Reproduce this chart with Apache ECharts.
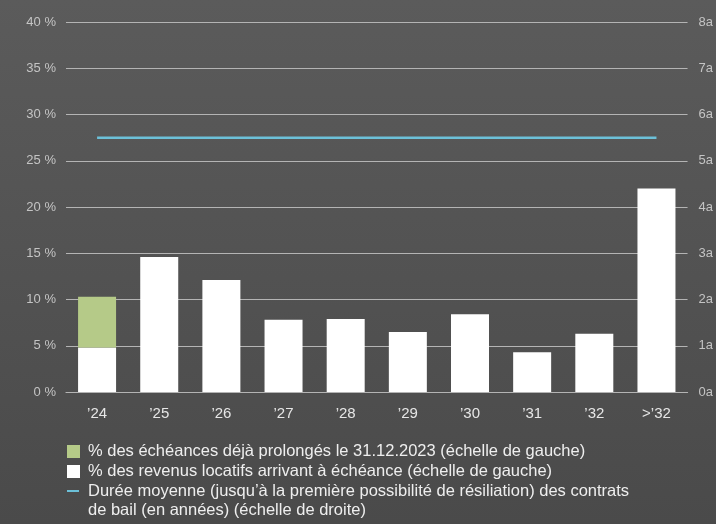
<!DOCTYPE html>
<html>
<head>
<meta charset="utf-8">
<script src="https://cdn.jsdelivr.net/npm/echarts@6/dist/echarts.min.js"></script>
<style>
  html, body { margin: 0; padding: 0; }
  #chart { width: 716px; height: 524px; }
</style>
</head>
<body>
<div id="chart"></div>
<script>
  // catégories (années d'échéance)
  const categories = ['’24', '’25', '’26', '’27', '’28', '’29', '’30', '’31', '’32', '>’32'];
  // % des revenus locatifs arrivant à échéance
  const revenus = [4.8, 14.6, 12.1, 7.8, 7.9, 6.5, 8.4, 4.3, 6.3, 22.0];
  // % des échéances déjà prolongés
  const prolonges = [5.5, null, null, null, null, null, null, null, null, null];
  // durée moyenne (années)
  const dureeMoyenne = [5.5, 5.5, 5.5, 5.5, 5.5, 5.5, 5.5, 5.5, 5.5, 5.5];

  const legendTexts = [
    '% des échéances déjà prolongés le 31.12.2023 (échelle de gauche)',
    '% des revenus locatifs arrivant à échéance (échelle de gauche)',
    'Durée moyenne (jusqu’à la première possibilité de résiliation) des contrats\nde bail (en années) (échelle de droite)',
  ];

  const font = 'Liberation Sans, Arial, sans-serif';
  const gridLine = { lineStyle: { color: '#b4b4b4', width: 1.2 } };

  const chart = echarts.init(document.getElementById('chart'));
  const option = {
    backgroundColor: new echarts.graphic.LinearGradient(0, 0, 0, 1, [
      { offset: 0, color: '#5b5b5b' },
      { offset: 1, color: '#4a4a4a' },
    ]),
    animation: false,
    textStyle: { fontFamily: font },
    grid: { left: 66, right: 28, top: 22, bottom: 132 },
    xAxis: {
      type: 'category',
      data: categories,
      axisLine: { lineStyle: { color: '#b4b4b4', width: 1.2 } },
      axisTick: { show: false },
      axisLabel: { color: '#e6e6e6', fontSize: 15, margin: 14, fontFamily: font },
    },
    yAxis: [
      {
        type: 'value',
        min: 0,
        max: 40,
        interval: 5,
        axisLine: { show: false },
        axisTick: { show: false },
        splitLine: gridLine,
        axisLabel: {
          color: '#c4c4c4', fontSize: 13, margin: 10, padding: [0, 0, 6, 0],
          formatter: '{value} %', fontFamily: font,
        },
      },
      {
        type: 'value',
        min: 0,
        max: 8,
        interval: 1,
        axisLine: { show: false },
        axisTick: { show: false },
        splitLine: { show: false },
        axisLabel: {
          color: '#c4c4c4', fontSize: 13, margin: 11, padding: [0, 0, 6, 0],
          formatter: '{value}a', fontFamily: font,
        },
      },
    ],
    series: [
      {
        name: 'revenus',
        type: 'bar',
        stack: 'total',
        barWidth: 38,
        itemStyle: { color: '#ffffff' },
        data: revenus,
      },
      {
        name: 'prolonges',
        type: 'bar',
        stack: 'total',
        barWidth: 38,
        itemStyle: { color: '#b5ca88' },
        data: prolonges,
      },
      {
        name: 'duree',
        type: 'line',
        yAxisIndex: 1,
        symbol: 'none',
        lineStyle: { color: '#6cc0d8', width: 2.5 },
        data: dureeMoyenne,
      },
    ],
    // légende dessinée à la main (icône du trait alignée sur la première ligne)
    graphic: [
      { type: 'rect', left: 67, top: 445, shape: { width: 13, height: 13 }, style: { fill: '#b5ca88' } },
      { type: 'rect', left: 67, top: 465, shape: { width: 13, height: 13 }, style: { fill: '#ffffff' } },
      { type: 'rect', left: 67, top: 490, shape: { width: 12, height: 2 }, style: { fill: '#6cc0d8' } },
      {
        type: 'text', left: 88, top: 443,
        style: { text: legendTexts[0], fill: '#eeeeee', font: '16.5px ' + font },
      },
      {
        type: 'text', left: 88, top: 463,
        style: { text: legendTexts[1], fill: '#eeeeee', font: '16.5px ' + font },
      },
      {
        type: 'text', left: 88, top: 482,
        style: { text: legendTexts[2], fill: '#eeeeee', font: '16.5px ' + font, lineHeight: 19 },
      },
    ],
  };
  chart.setOption(option);
</script>
</body>
</html>
